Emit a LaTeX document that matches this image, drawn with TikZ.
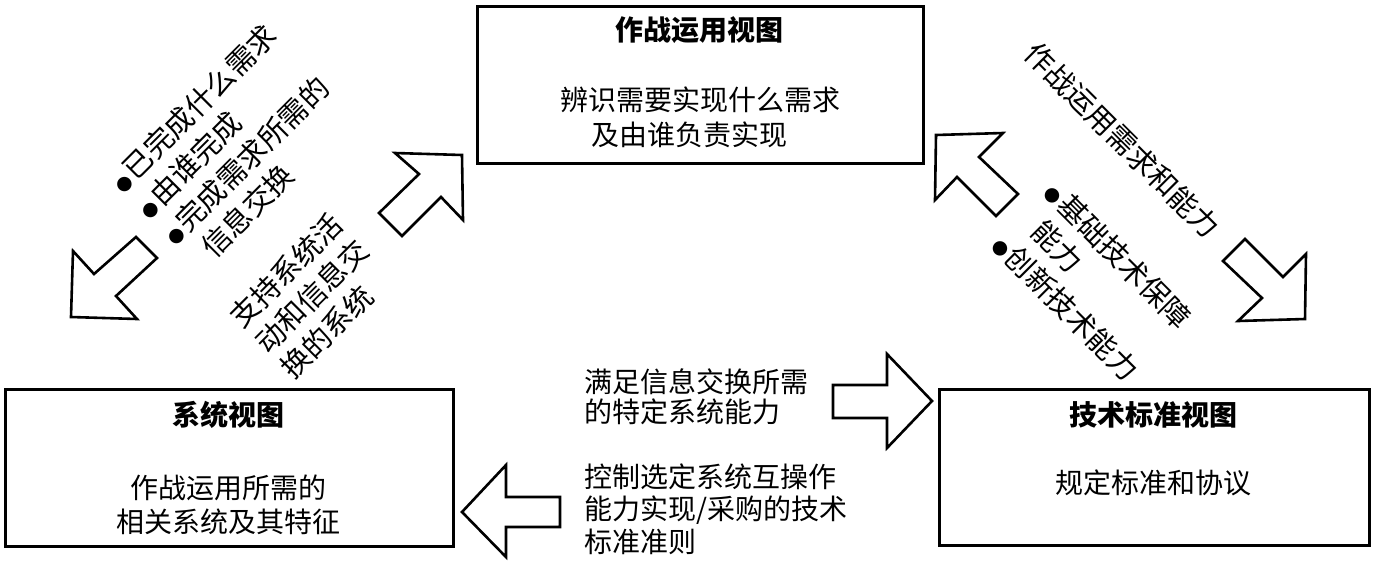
\documentclass[tikz,border=0pt]{standalone}
\usepackage{fontspec}
\setmainfont{Noto Sans CJK SC}
\newcommand{\bulmark}{{\fontsize{16}{16}\selectfont ●}\hspace{2pt}}
\newcommand{\bulspace}{\hspace{18pt}}
\begin{document}
\begin{tikzpicture}[x=1pt,y=-1pt,
  box/.style={draw, line width=2.6pt, inner sep=0pt},
  blk/.style={draw, line width=2.6pt, line join=miter, fill=white},
  txt/.style={inner sep=0pt, font=\fontsize{28}{28}\selectfont},
  ttl/.style={inner sep=0pt, font=\fontsize{28}{28}\selectfont\bfseries},
  rtxt/.style={inner sep=0pt, anchor=base west, font=\fontsize{29}{29}\selectfont},
]
\useasboundingbox (0,0) rectangle (1373,566);

% boxes
\node[box, minimum width=446pt, minimum height=157pt, anchor=north west] (op) at (476,5) {};
\node[box, minimum width=448pt, minimum height=157pt, anchor=north west] (sv) at (4,388) {};
\node[box, minimum width=430pt, minimum height=156pt, anchor=north west] (tv) at (938,388) {};

% box texts
\node[ttl] (opt) at (699,30) {作战运用视图};
\node[txt] (opb1) at (700,100) {辨识需要实现什么需求};
\node[txt] (opb2) at (689,135) {及由谁负责实现};

\node[ttl] (svt) at (228,415) {系统视图};
\node[txt] (svb1) at (228,488) {作战运用所需的};
\node[txt] (svb2) at (228,522) {相关系统及其特征};

\node[ttl] (tvt) at (1153,415) {技术标准视图};
\node[txt] (tvb1) at (1153,483) {规定标准和协议};

% block arrows
\draw[blk] (71,317) -- (137,319) -- (116,296) -- (157,258) -- (136,237) -- (94,274) -- (73,251) -- cycle;
\draw[blk] (462,155) -- (395,153) -- (419,174) -- (379,213) -- (402,236) -- (441,197) -- (463,220) -- cycle;
\draw[blk] (936,135) -- (1003,133) -- (979,157) -- (1018,194) -- (996,216) -- (957,177) -- (935,200) -- cycle;
\draw[blk] (1305,319) -- (1238,321) -- (1262,298) -- (1223,261) -- (1245,239) -- (1283,277) -- (1306,254) -- cycle;
\draw[blk] (462,512) -- (506,465) -- (506,497) -- (560,497) -- (560,527) -- (506,527) -- (506,557) -- cycle;
\draw[blk] (932,401) -- (887,354) -- (887,385) -- (833,385) -- (833,418) -- (887,418) -- (887,448) -- cycle;

% upper-left rotated bullet list
\node[rtxt, rotate=45] (lst) at (123,194.2) {\vtop{\baselineskip=37pt
  \hbox{\bulmark 已完成什么需求}
  \hbox{\bulmark 由谁完成}
  \hbox{\bulmark 完成需求所需的}
  \hbox{\bulspace 信息交换}}};

% lower-left rotated label
\node[rtxt, rotate=45] (sup) at (242.5,330.1) {\vtop{\baselineskip=36pt
  \hbox{支持系统活}
  \hbox{动和信息交}
  \hbox{换的系统}}};

% right rotated texts
\node[rtxt, rotate=-45] (req) at (1021.9,55.8) {作战运用需求和能力};
\node[rtxt, rotate=-45] (cap) at (1042.4,194.7) {\vtop{\baselineskip=37pt
  \hbox{\bulmark 基础技术保障}
  \hbox{\bulspace 能力}
  \hbox{\bulmark 创新技术能力}}};

% middle texts
\node[txt, anchor=west] (m1) at (584,382) {满足信息交换所需};
\node[txt, anchor=west] (m2) at (584,412) {的特定系统能力};
\node[txt, anchor=west] (m3) at (584,477) {控制选定系统互操作};
\node[txt, anchor=west] (m4) at (584,510) {能力实现/采购的技术};
\node[txt, anchor=west] (m5) at (584,542) {标准准则};
\end{tikzpicture}
\end{document}
